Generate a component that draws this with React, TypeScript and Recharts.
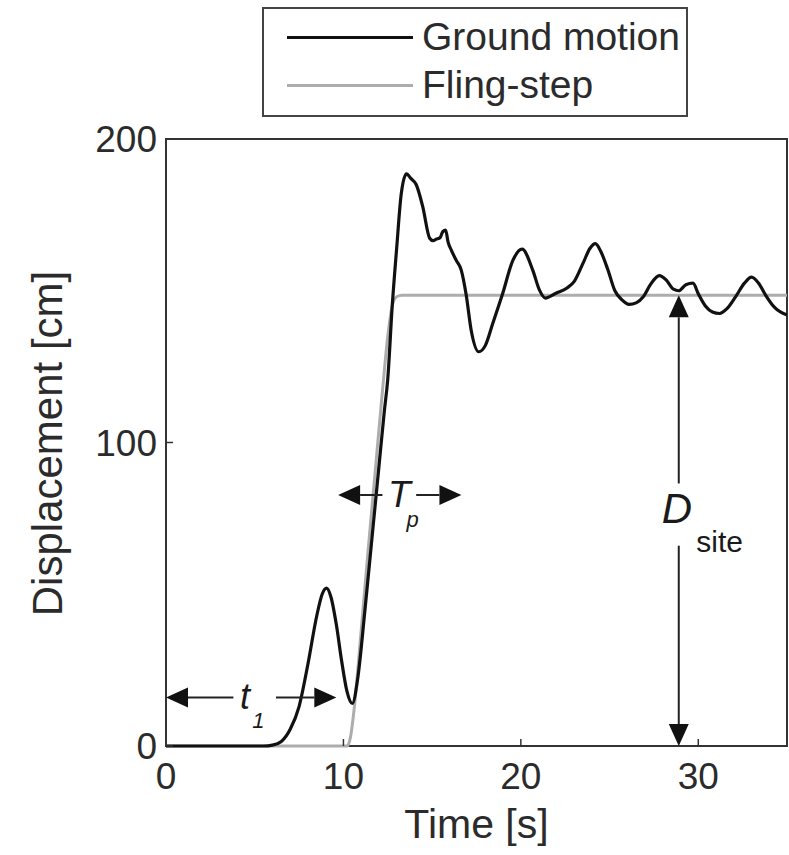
import React from "react"
import {
  LineChart,
  Line,
  XAxis,
  YAxis,
  ReferenceLine,
  ReferenceDot,
  ReferenceArea,
  Legend,
  Label,
} from "recharts"

// ground motion displacement record [time s, displacement cm]
const groundTime = [
  0, 3, 5.5, 6.0, 6.5, 7.0, 7.5, 8.0, 8.5, 8.8, 9.05, 9.3, 9.6, 9.9, 10.2, 10.5,
  10.8, 11.2, 11.6, 12.0, 12.3, 12.5, 12.75, 13.0, 13.26, 13.55, 13.8, 14.1,
  14.47, 14.86, 15.05, 15.23, 15.45, 15.6, 15.76, 15.9, 16.08, 16.36, 16.64,
  16.92, 17.2, 17.63, 18.0, 18.42, 18.98, 19.55, 20.07, 20.67, 21.05, 21.38,
  21.98, 22.6, 23.0, 23.5, 23.9, 24.2, 24.5, 24.9, 25.3, 25.7, 26.1, 26.5, 26.9,
  27.3, 27.8, 28.2, 28.6, 28.9, 29.3, 29.7, 30.0, 30.4, 30.8, 31.2, 31.6, 32.1,
  32.6, 33.0, 33.4, 33.8, 34.3, 35,
]
const groundDisp = [
  0, 0, 0, 0.3, 1.5, 5.5, 13, 27, 43, 50, 52, 49, 40, 28, 18, 14,
  22, 44, 68, 92, 110, 121, 145, 164, 182, 188.5, 187, 185,
  177.7, 167.3, 166.5, 167, 167.5, 169.5, 170, 166, 163.4, 160, 156.8,
  148.6, 137, 129.9, 132, 139.3, 149.2, 160, 163.7, 156.8, 150.2, 147.6,
  149.2, 150.9, 153, 159, 164, 165.5, 163, 157, 150, 147, 145.5, 146, 148,
  152, 155, 153.5, 150.5, 150, 152, 152.5, 149, 145, 143, 142.5, 144, 148,
  152.5, 154.5, 152.5, 148.5, 144.5, 142,
]

// idealised fling-step
const flingTime = [0, 10.2, 10.4, 10.6, 11.0, 11.4, 11.8, 12.2, 12.5, 12.75, 13.0, 13.3, 35]
const flingDisp = [0, 0, 3, 12, 38, 65, 91, 117, 135, 145, 148, 148.5, 148.5]

const xTicks = [0, 10, 20, 30]
const yTicks = [0, 100, 200]

const groundData = groundTime.map((t, i) => ({ t, v: groundDisp[i] }))
const flingData = flingTime.map((t, i) => ({ t, v: flingDisp[i] }))

// annotation arrows: [fromX, fromY, tipX, tipY]
const arrows = [
  [3.8, 16, 0, 16],
  [6.2, 16, 9.6, 16],
  [12.2, 82.7, 9.7, 82.7],
  [14.1, 82.7, 16.65, 82.7],
  [28.9, 86.5, 28.9, 148.5],
  [28.9, 66, 28.9, 0],
]

const FONT = "'Liberation Sans', Arial, Helvetica, sans-serif"
const INK = "#2b2b2b"

function Arrow(props: any) {
  const { x1, y1, x2, y2 } = props
  const dx = x2 - x1
  const dy = y2 - y1
  const len = Math.sqrt(dx * dx + dy * dy) || 1
  const ux = dx / len
  const uy = dy / len
  const hl = 22
  const hw = 10
  const bx = x2 - ux * hl
  const by = y2 - uy * hl
  const pts = `${x2},${y2} ${bx - uy * hw},${by + ux * hw} ${bx + uy * hw},${by - ux * hw}`
  return (
    <g>
      <line x1={x1} y1={y1} x2={bx} y2={by} stroke="#222" strokeWidth={2} />
      <polygon points={pts} fill="#111" />
    </g>
  )
}

function makeText(txt: string, size: number, italic: boolean) {
  return (p: any) => (
    <text
      x={p.cx}
      y={p.cy}
      textAnchor="middle"
      dominantBaseline="central"
      fontFamily={FONT}
      fontSize={size}
      fontStyle={italic ? "italic" : "normal"}
      fill="#1a1a1a"
    >
      {txt}
    </text>
  )
}

function LegendBox({ payload }: any) {
  const items = [...(payload || [])].reverse()
  return (
    <div
      style={{
        border: "2px solid #444",
        width: 426,
        height: 110,
        boxSizing: "border-box",
        fontFamily: FONT,
        fontSize: 39,
        color: INK,
        paddingTop: 4,
      }}
    >
      {items.map((item: any) => (
        <div
          key={item.value}
          style={{ display: "flex", alignItems: "center", height: 48 }}
        >
          <div
            style={{
              marginLeft: 23,
              width: 126,
              height: 3,
              background: item.color,
            }}
          />
          <span style={{ marginLeft: 9, lineHeight: "48px" }}>{item.value}</span>
        </div>
      ))}
    </div>
  )
}

const hideTick = () => <g />

export default function App() {
  return (
    <div style={{ position: "absolute", left: 0, top: 0, background: "#fff" }}>
      <LineChart
        width={789}
        height={855}
        margin={{ top: 139, right: 2, bottom: 0, left: 0 }}
      >
        <XAxis
          xAxisId="b"
          type="number"
          dataKey="t"
          domain={[0, 35]}
          ticks={xTicks}
          allowDataOverflow
          height={109}
          axisLine={false}
          tickSize={-7}
          tickMargin={24}
          tickLine={{ stroke: "#333", strokeWidth: 1.5 }}
          tick={{ fill: INK, fontSize: 37, fontFamily: FONT }}
        >
          <Label
            content={(p: any) => {
              const vb = p.viewBox
              return (
                <text
                  x={vb.x + vb.width / 2}
                  y={838}
                  textAnchor="middle"
                  fontFamily={FONT}
                  fontSize={41}
                  fill={INK}
                >
                  Time [s]
                </text>
              )
            }}
          />
        </XAxis>
        <XAxis
          xAxisId="top"
          orientation="top"
          type="number"
          dataKey="t"
          domain={[0, 35]}
          ticks={xTicks}
          height={0}
          axisLine={false}
          tickSize={-7}
          tickLine={{ stroke: "#333", strokeWidth: 1.5 }}
          tick={hideTick}
        />
        <YAxis
          yAxisId="l"
          type="number"
          domain={[0, 200]}
          ticks={yTicks}
          width={166}
          axisLine={false}
          tickSize={-7}
          tickMargin={16}
          tickLine={{ stroke: "#333", strokeWidth: 1.5 }}
          tick={{ fill: INK, fontSize: 37, fontFamily: FONT }}
        >
          <Label
            content={(p: any) => {
              const vb = p.viewBox
              const cx = 47
              const cy = vb.y + vb.height / 2 + 1
              return (
                <text
                  x={cx}
                  y={cy}
                  textAnchor="middle"
                  dominantBaseline="central"
                  transform={`rotate(-90 ${cx} ${cy})`}
                  fontFamily={FONT}
                  fontSize={42}
                  fill={INK}
                >
                  Displacement [cm]
                </text>
              )
            }}
          />
        </YAxis>
        <YAxis
          yAxisId="r"
          orientation="right"
          type="number"
          domain={[0, 200]}
          ticks={yTicks}
          width={0}
          axisLine={false}
          tickSize={-7}
          tickLine={{ stroke: "#333", strokeWidth: 1.5 }}
          tick={hideTick}
        />
        <ReferenceArea
          xAxisId="b"
          yAxisId="l"
          x1={0}
          x2={35}
          y1={0}
          y2={200}
          fill="none"
          stroke="#333"
          strokeWidth={2}
          ifOverflow="visible"
        />
        <Legend
          verticalAlign="middle"
          align="center"
          layout="horizontal"
          wrapperStyle={{ top: 7, left: 262, width: 426 }}
          content={<LegendBox />}
        />
        <Line
          xAxisId="b"
          yAxisId="l"
          name="Fling-step"
          data={flingData}
          dataKey="v"
          type="monotone"
          stroke="#adadad"
          strokeWidth={3}
          dot={false}
          isAnimationActive={false}
        />
        <Line
          xAxisId="b"
          yAxisId="l"
          name="Ground motion"
          data={groundData}
          dataKey="v"
          type="monotone"
          stroke="#111"
          strokeWidth={3.2}
          dot={false}
          isAnimationActive={false}
        />
        {arrows.map((a, i) => (
          <ReferenceLine
            key={i}
            xAxisId="b"
            yAxisId="l"
            segment={[
              { x: a[0], y: a[1] },
              { x: a[2], y: a[3] },
            ]}
            ifOverflow="visible"
            shape={Arrow}
          />
        ))}
        <ReferenceDot xAxisId="b" yAxisId="l" x={4.45} y={16.3} ifOverflow="visible" shape={makeText("t", 36, true)} />
        <ReferenceDot xAxisId="b" yAxisId="l" x={5.2} y={8.5} ifOverflow="visible" shape={makeText("1", 22, true)} />
        <ReferenceDot xAxisId="b" yAxisId="l" x={13.15} y={83} ifOverflow="visible" shape={makeText("T", 37, true)} />
        <ReferenceDot xAxisId="b" yAxisId="l" x={13.9} y={74.5} ifOverflow="visible" shape={makeText("p", 22, true)} />
        <ReferenceDot xAxisId="b" yAxisId="l" x={28.8} y={78.4} ifOverflow="visible" shape={makeText("D", 42, true)} />
        <ReferenceDot xAxisId="b" yAxisId="l" x={31.2} y={67.5} ifOverflow="visible" shape={makeText("site", 30, false)} />
      </LineChart>
    </div>
  )
}
